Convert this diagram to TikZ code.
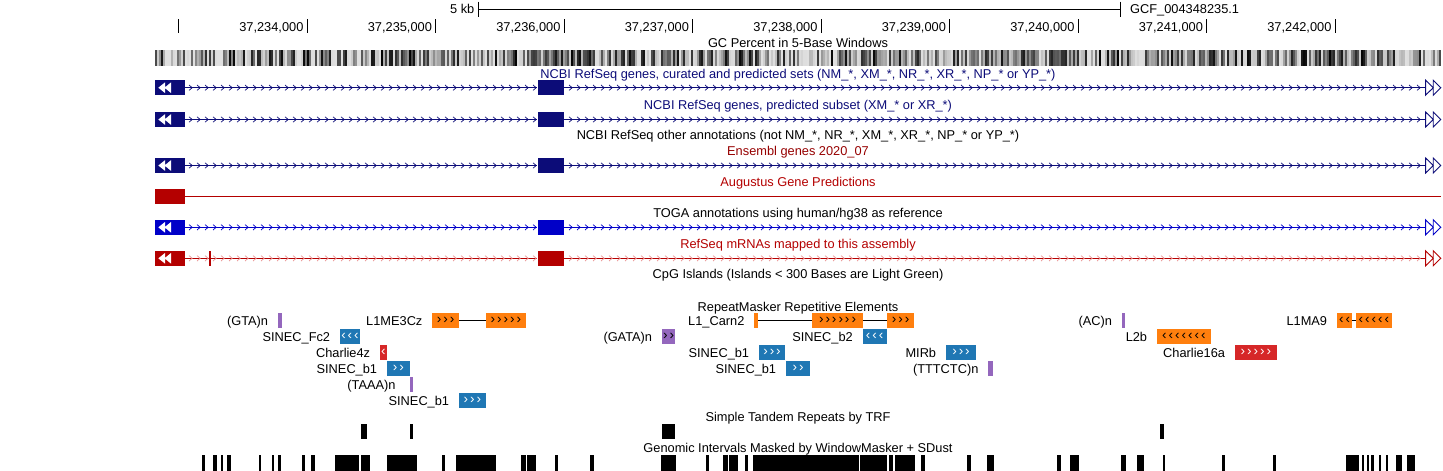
\documentclass[tikz,border=0pt]{standalone}
\usepackage{fontspec}
\setmainfont{Liberation Sans}
\usetikzlibrary{positioning}

\definecolor{navy}{RGB}{12,12,120}
\definecolor{togablue}{RGB}{0,0,200}
\definecolor{augred}{RGB}{180,0,0}
\definecolor{ensred}{RGB}{150,0,0}
\definecolor{mrnared}{RGB}{180,0,0}
\definecolor{mrnapink}{RGB}{235,150,150}
\definecolor{lineorange}{RGB}{255,127,14}
\definecolor{sineblue}{RGB}{31,119,180}
\definecolor{dnared}{RGB}{214,39,40}
\definecolor{simplepurple}{RGB}{148,103,189}
\definecolor{gcback}{RGB}{224,224,224}

\newcommand{\rchev}{\makebox[6.5pt]{›}}
\newcommand{\lchev}{\makebox[6.5pt]{‹}}

\begin{document}
\begin{tikzpicture}[x=1pt, y=-1pt, every node/.style={inner sep=0pt},
        trk/.style={font=\fontsize{12.8}{14}\selectfont, text height=9.2pt, text depth=0pt},
        exon/.style={rectangle, minimum width=30pt, minimum height=15pt},
        intron/.style={line width=1.2pt},
        chev/.style={line width=0.7pt},
        rmbox/.style={rectangle, minimum height=14.5pt, font=\fontsize{13.5}{10}\selectfont},
        lineel/.style={rmbox, fill=lineorange, text=black},
        sineel/.style={rmbox, fill=sineblue, text=white},
        dnael/.style={rmbox, fill=dnared, text=white},
        simpel/.style={rmbox, fill=simplepurple, text=black},
        node distance=9.5pt]
    \useasboundingbox (0,0) rectangle (1443,471);

    % ruler
    \node[trk, anchor=east] (kb) at (474.5,9.3) {5 kb};
    \coordinate (sbl) at (478.3,9.3);
    \coordinate (sbr) at (1120,9.3);
    \draw (sbl) -- (sbr);
    \draw (478.3,1.7) -- (478.3,17.3) (1120,1.7) -- (1120,17.3);
    \node[trk, anchor=west] (asm) at (1130,9.3) {GCF\_004348235.1};
    \draw (178.3,19.3) -- (178.3,33.3);
    \foreach \i in {34,...,42} {
        \pgfmathsetmacro\tx{178.3+(\i-33)*128.5}
        \draw (\tx,19.3) -- (\tx,33.3);
        \node[trk, anchor=east] at (\tx-3.2,26.7) {37,2\i,000};
    }

    % track labels
    \node[trk] (gcl) at (798,43) {GC Percent in 5-Base Windows};
    \node[trk, text=navy] (rsl) at (798,74) {NCBI RefSeq genes, curated and predicted sets (NM\_*, XM\_*, NR\_*, XR\_*, NP\_* or YP\_*)};
    \node[trk, text=navy] (rspl) at (798,104.5) {NCBI RefSeq genes, predicted subset (XM\_* or XR\_*)};
    \node[trk] (rsol) at (798,135) {NCBI RefSeq other annotations (not NM\_*, NR\_*, XM\_*, XR\_*, NP\_* or YP\_*)};
    \node[trk, text=ensred] (ensl) at (798,151) {Ensembl genes 2020\_07};
    \node[trk, text=augred] (augl) at (798,182) {Augustus Gene Predictions};
    \node[trk] (togl) at (798,213) {TOGA annotations using human/hg38 as reference};
    \node[trk, text=augred] (mrnl) at (798,244) {RefSeq mRNAs mapped to this assembly};
    \node[trk] (cpgl) at (798,274) {CpG Islands (Islands < 300 Bases are Light Green)};
    \node[trk] (rml) at (798,306.5) {RepeatMasker Repetitive Elements};
    \node[trk] (trfl) at (798,417) {Simple Tandem Repeats by TRF};
    \node[trk] (wml) at (798,448) {Genomic Intervals Masked by WindowMasker + SDust};

    % GC percent
    \fill[gcback] (155,49.5) rectangle (1441,66);
    \pgfmathsetseed{17}
    \foreach \x in {155,157,...,1439} {
        \pgfmathsetmacro\g{int(min(100,12+88*rnd^(1.1+1.4*(1+sin(\x*2.3+40))/2)))}
        \fill[black!\g] (\x,49.5) rectangle ++(1.6,16.5);
    }

    % gene models
    \foreach \y/\col/\k/\n in {87.7/navy/navy/a, 119.5/navy/navy/b, 165.5/navy/navy/c, 227.3/togablue/togablue/d, 258.3/mrnared/mrnapink/e} {
        \node[exon, fill=\col] (\n1) at (170,\y) {};
        \node[exon, fill=\col, minimum width=26.5pt] (\n2) at (550.75,\y) {};
        \coordinate (\n3) at (1425.6,\y);
        \draw[intron, \col] (\n1) -- (\n2) -- (\n3);
        \foreach \x in {191,199,...,535,571,579,...,1419}
            \draw[chev, \k] (\x-2,\y-2.7) -- (\x+1.2,\y) -- (\x-2,\y+2.7);
        \fill[white] (158.3,\y) -- (165,\y-5.3) -- (165,\y+5.3) -- cycle
                     (164.5,\y) -- (171,\y-5.3) -- (171,\y+5.3) -- cycle;
        \draw[\col, fill=white, line width=0.9pt] (1425.6,\y-7.5) -- (1433.2,\y) -- (1425.6,\y+7.5) -- cycle
                     (1433.2,\y-7.5) -- (1440.8,\y) -- (1433.2,\y+7.5) -- cycle;
    }
    \draw[mrnared, line width=1.2pt] (210,251) -- (210,265.6);
    \node[exon, fill=augred] (au1) at (170,196.5) {};
    \coordinate (au2) at (1441,196.5);
    \draw[intron, augred] (au1) -- (au2);

    % RepeatMasker
    \node[simpel, minimum width=4pt] (gta) at (280,320.5) {};
    \node[trk, left=of gta] {(GTA)n};
    \node[lineel, minimum width=26.7pt] (l1mea) at (445.65,320.5) {\rchev\rchev\rchev};
    \node[lineel, minimum width=39.7pt] (l1meb) at (505.85,320.5) {\rchev\rchev\rchev\rchev\rchev};
    \node[trk, left=of l1mea] {L1ME3Cz};
    \draw (l1mea) -- (l1meb);
    \node[sineel, minimum width=20pt] (fc2) at (350,336.5) {\lchev\lchev\lchev};
    \node[trk, left=of fc2] {SINEC\_Fc2};
    \node[dnael, minimum width=6.7pt] (ch4z) at (383.35,352.5) {\lchev};
    \node[trk, left=of ch4z] {Charlie4z};
    \node[sineel, minimum width=22.7pt] (b1a) at (398.35,368.5) {\rchev\rchev};
    \node[trk, left=of b1a] {SINEC\_b1};
    \node[simpel, minimum width=2.7pt] (taaa) at (411.35,384.5) {};
    \node[trk, left=14pt of taaa] {(TAAA)n};
    \node[sineel, minimum width=26.7pt] (b1b) at (472.35,400.5) {\rchev\rchev\rchev};
    \node[trk, left=of b1b] {SINEC\_b1};
    \node[simpel, minimum width=12.4pt] (gata) at (668.5,336.5) {\rchev\rchev};
    \node[trk, left=of gata] {(GATA)n};
    \node[lineel, minimum width=3.4pt] (carna) at (756,320.5) {};
    \node[lineel, minimum width=50.4pt] (carnb) at (837.5,320.5) {\rchev\rchev\rchev\rchev\rchev\rchev};
    \node[lineel, minimum width=27pt] (carnc) at (900.5,320.5) {\rchev\rchev\rchev};
    \node[trk, left=of carna] {L1\_Carn2};
    \draw (carna) -- (carnb) -- (carnc);
    \node[sineel, minimum width=24pt] (b2) at (874.7,336.5) {\lchev\lchev\lchev};
    \node[trk, left=of b2] {SINEC\_b2};
    \node[sineel, minimum width=26pt] (b1c) at (772,352.5) {\rchev\rchev\rchev};
    \node[trk, left=of b1c] {SINEC\_b1};
    \node[sineel, minimum width=30pt] (mirb) at (961,352.5) {\rchev\rchev\rchev};
    \node[trk, left=of mirb] {MIRb};
    \node[sineel, minimum width=24pt] (b1d) at (798,368.5) {\rchev\rchev};
    \node[trk, left=of b1d] {SINEC\_b1};
    \node[simpel, minimum width=4.4pt] (tttctc) at (990.5,368.5) {};
    \node[trk, left=of tttctc] {(TTTCTC)n};
    \node[simpel, minimum width=2.7pt] (ac) at (1123.35,320.5) {};
    \node[trk, left=of ac] {(AC)n};
    \node[lineel, minimum width=15pt] (l1maa) at (1344.5,320.5) {\lchev\lchev};
    \node[lineel, minimum width=35.7pt] (l1mab) at (1373.85,320.5) {\lchev\lchev\lchev\lchev\lchev};
    \node[trk, left=of l1maa] {L1MA9};
    \draw (l1maa) -- (l1mab);
    \node[lineel, minimum width=53.7pt] (l2b) at (1183.85,336.5) {\lchev\lchev\lchev\lchev\lchev\lchev\lchev};
    \node[trk, left=of l2b] {L2b};
    \node[dnael, minimum width=41.7pt] (ch16a) at (1255.85,352.5) {\rchev\rchev\rchev\rchev\rchev};
    \node[trk, left=of ch16a] {Charlie16a};

    % simple tandem repeats
    \foreach \a/\b in {361.4/366.8, 409.5/412.9, 662/675, 1159.8/1163.6}
        \fill (\a,424) rectangle (\b,439);

    % window masker
    \foreach \a/\b in {201.8/205.1, 213.4/217.2, 220.5/223, 227.1/231.3, 258.6/261.1, 271.5/274.4,
            277.7/281, 302.2/304.6, 311.3/314.6, 335.3/358.5, 361/370.1, 387.1/416.6, 441.9/445.2,
            455.6/495.8, 521/525.6, 527.3/535.6, 555/558, 589.9/593.6, 661.2/675.7, 705.6/708.9,
            723/728.4, 729.2/737.9, 745/747.8, 753.2/858.7, 859.6/887, 888.7/893.3, 895/915,
            921.2/924.5, 967.4/970.8, 987/993.7, 1057/1060.7, 1069.9/1078.6, 1121/1125.7,
            1136.5/1143.6, 1163.2/1164.8, 1221.9/1225.2, 1273.1/1276.4, 1346/1358.5,
            1361.8/1363.9, 1366.8/1368.9, 1371/1373.5, 1379.3/1381.4, 1385.6/1388,
            1396/1402.2, 1407.3/1414.7}
        \fill (\a,455) rectangle (\b,471);
\end{tikzpicture}
\end{document}
